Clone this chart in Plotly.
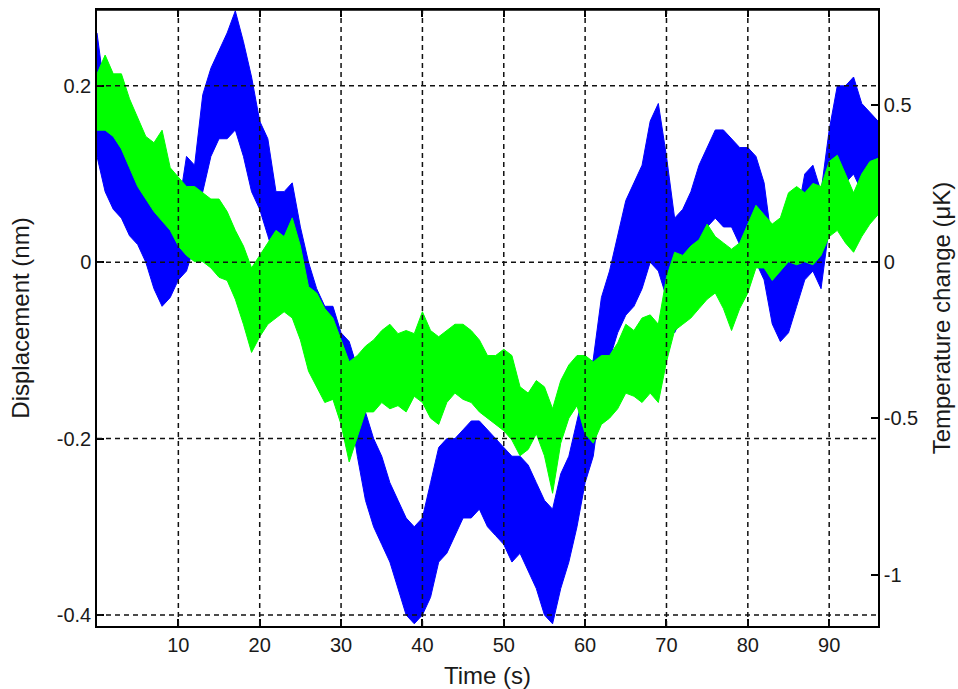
import plotly.graph_objects as go

# Sample times (s)
time_s = list(range(0, 97))

# Displacement (nm): lower / upper envelope of the noisy record per second
disp_lo = [0.12, 0.08, 0.06, 0.05, 0.03, 0.02, 0.00, -0.03, -0.05, -0.04,
           -0.02, -0.01, 0.02, 0.08, 0.12, 0.14, 0.14, 0.15, 0.12, 0.08,
           0.06, 0.03, 0.00, 0.00, 0.00, -0.04, -0.09, -0.12, -0.13, -0.12,
           -0.13, -0.16, -0.22, -0.27, -0.30, -0.32, -0.34, -0.37, -0.40, -0.41,
           -0.40, -0.38, -0.34, -0.33, -0.31, -0.29, -0.29, -0.28, -0.30, -0.31,
           -0.32, -0.34, -0.33, -0.35, -0.37, -0.40, -0.41, -0.37, -0.34, -0.30,
           -0.25, -0.22, -0.15, -0.11, -0.08, -0.06, -0.05, -0.03, 0.00, -0.01,
           -0.04, -0.08, -0.06, -0.02, 0.01, 0.04, 0.05, 0.04, 0.04, 0.02,
           0.01, 0.00, -0.02, -0.07, -0.09, -0.08, -0.05, -0.02, -0.01, -0.03,
           0.04, 0.07, 0.09, 0.10, 0.08, 0.08, 0.09]
disp_hi = [0.26, 0.19, 0.17, 0.15, 0.14, 0.12, 0.10, 0.08, 0.06, 0.05,
           0.06, 0.12, 0.11, 0.19, 0.22, 0.24, 0.26, 0.285, 0.25, 0.21,
           0.16, 0.14, 0.08, 0.08, 0.09, 0.04, 0.00, -0.03, -0.05, -0.05,
           -0.08, -0.09, -0.12, -0.17, -0.20, -0.22, -0.25, -0.27, -0.29, -0.30,
           -0.29, -0.25, -0.21, -0.20, -0.20, -0.19, -0.18, -0.18, -0.19, -0.20,
           -0.21, -0.22, -0.22, -0.23, -0.25, -0.27, -0.28, -0.24, -0.22, -0.18,
           -0.14, -0.11, -0.04, -0.01, 0.03, 0.07, 0.09, 0.11, 0.16, 0.18,
           0.12, 0.05, 0.06, 0.08, 0.11, 0.13, 0.15, 0.15, 0.14, 0.13,
           0.13, 0.12, 0.09, 0.02, 0.00, 0.02, 0.05, 0.10, 0.11, 0.08,
           0.15, 0.20, 0.20, 0.21, 0.18, 0.17, 0.16]

# Temperature change (uK): lower / upper envelope per second
temp_lo = [0.42, 0.42, 0.40, 0.36, 0.30, 0.24, 0.20, 0.16, 0.13, 0.10,
           0.05, 0.02, 0.00, 0.00, -0.02, -0.05, -0.06, -0.12, -0.20, -0.29,
           -0.24, -0.20, -0.18, -0.16, -0.18, -0.25, -0.35, -0.40, -0.45, -0.44,
           -0.52, -0.64, -0.56, -0.48, -0.48, -0.45, -0.47, -0.46, -0.48, -0.43,
           -0.45, -0.50, -0.52, -0.45, -0.42, -0.44, -0.45, -0.48, -0.50, -0.52,
           -0.54, -0.57, -0.62, -0.60, -0.55, -0.62, -0.74, -0.58, -0.50, -0.46,
           -0.55, -0.58, -0.52, -0.50, -0.47, -0.42, -0.43, -0.45, -0.42, -0.45,
           -0.32, -0.22, -0.20, -0.18, -0.15, -0.12, -0.10, -0.15, -0.22, -0.15,
           -0.10, -0.02, -0.02, -0.06, -0.03, 0.00, -0.01, 0.00, -0.01, 0.02,
           0.08, 0.10, 0.06, 0.03, 0.08, 0.12, 0.15]
temp_hi = [0.60, 0.66, 0.60, 0.60, 0.52, 0.46, 0.40, 0.38, 0.42, 0.30,
           0.27, 0.24, 0.24, 0.22, 0.20, 0.20, 0.16, 0.10, 0.05, -0.02,
           0.02, 0.06, 0.10, 0.08, 0.14, 0.05, -0.08, -0.10, -0.15, -0.18,
           -0.25, -0.32, -0.30, -0.27, -0.25, -0.22, -0.20, -0.23, -0.22, -0.23,
           -0.16, -0.22, -0.24, -0.22, -0.20, -0.20, -0.22, -0.25, -0.30, -0.30,
           -0.28, -0.30, -0.40, -0.42, -0.38, -0.40, -0.47, -0.38, -0.33, -0.30,
           -0.30, -0.32, -0.30, -0.30, -0.26, -0.20, -0.22, -0.18, -0.17, -0.20,
           -0.05, 0.03, 0.02, 0.05, 0.07, 0.12, 0.08, 0.06, 0.04, 0.06,
           0.12, 0.18, 0.15, 0.12, 0.14, 0.22, 0.24, 0.22, 0.25, 0.24,
           0.32, 0.34, 0.28, 0.22, 0.28, 0.32, 0.33]

# Axis ticks
x_ticks = [10, 20, 30, 40, 50, 60, 70, 80, 90]
disp_ticks = [-0.4, -0.2, 0, 0.2]
disp_tick_text = ["-0.4", "-0.2", "0", "0.2"]
temp_ticks = [-1, -0.5, 0, 0.5]
temp_tick_text = ["-1", "-0.5", "0", "0.5"]

x_range = [0, 96]
disp_range = [-0.4125, 0.286]
temp_range = [-1.164, 0.804]

BLUE = "#0000ff"
GREEN = "#00ff00"
FONT = "Liberation Sans, Arial, sans-serif"
TXT = "#1a1a1a"


def band(lo, hi):
    xs = time_s + time_s[::-1]
    ys = hi + lo[::-1]
    return xs, ys


fig = go.Figure()

bx, by = band(disp_lo, disp_hi)
fig.add_trace(go.Scatter(x=bx, y=by, fill="toself", fillcolor=BLUE,
                         line=dict(color=BLUE, width=1), mode="lines",
                         name="Displacement", yaxis="y", hoverinfo="skip"))

gx, gy = band(temp_lo, temp_hi)
fig.add_trace(go.Scatter(x=gx, y=gy, fill="toself", fillcolor=GREEN,
                         line=dict(color=GREEN, width=1), mode="lines",
                         name="Temperature", yaxis="y2", hoverinfo="skip"))

# Dashed grid drawn over the data
grid = dict(color="#111111", width=1.5, dash="5px,4px")
shapes = []
for xv in x_ticks:
    shapes.append(dict(type="line", xref="x", yref="paper", x0=xv, x1=xv,
                       y0=0, y1=1, line=grid, layer="above"))
for yv in disp_ticks:
    shapes.append(dict(type="line", xref="paper", yref="y", x0=0, x1=1,
                       y0=yv, y1=yv, line=grid, layer="above"))

axis_common = dict(showgrid=False, zeroline=False, ticks="inside", ticklen=7,
                   tickwidth=1.5, tickcolor="black", showline=True,
                   linecolor="black", linewidth=1.5, layer="above traces",
                   automargin=False)

fig.update_layout(
    width=958, height=689,
    margin=dict(l=97, r=80, t=10, b=63),
    paper_bgcolor="white", plot_bgcolor="white",
    showlegend=False,
    font=dict(family=FONT, size=20, color=TXT),
    shapes=shapes,
    xaxis=dict(range=x_range, tickvals=x_ticks, mirror="ticks",
               title=dict(text="Time (s)", standoff=12), **axis_common),
    yaxis=dict(range=disp_range, tickvals=disp_ticks, ticktext=disp_tick_text,
               title=dict(text="Displacement (nm)", standoff=20),
               **axis_common),
    yaxis2=dict(range=temp_range, tickvals=temp_ticks, ticktext=temp_tick_text,
                overlaying="y", side="right",
                title=dict(text="Temperature change (\u03bcK)", standoff=16),
                **axis_common),
)

# Top frame line
fig.add_shape(type="line", xref="paper", yref="paper", x0=0, x1=1, y0=1, y1=1,
              line=dict(color="black", width=1.5), layer="above")

fig.write_html("out.html")
